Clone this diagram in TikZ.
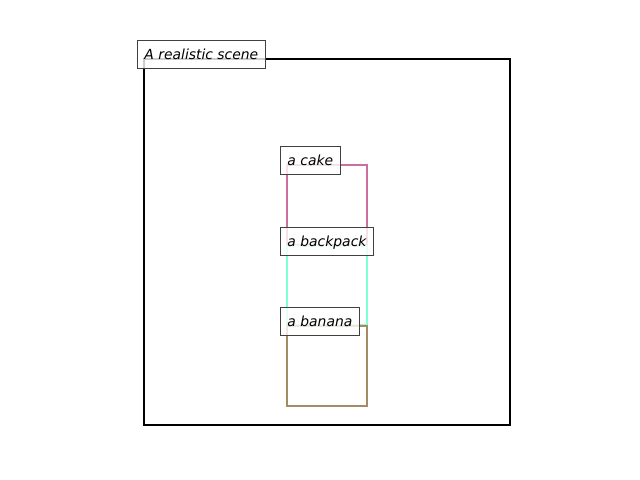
\documentclass[tikz,border=0pt]{standalone}
\usepackage{fontspec}
\newfontfamily\tagfont{DejaVu Sans}
\usetikzlibrary{positioning}
\definecolor{cakepink}{RGB}{204,110,158}
\definecolor{packcyan}{RGB}{127,255,212}
\definecolor{bananabrown}{RGB}{166,138,100}

\begin{document}
\begin{tikzpicture}[
    x=0.72pt, y=-0.72pt,
    frame/.style ={draw=black, line width=1.5pt},
    objbox/.style={line width=2pt},
    tag/.style   ={draw=black!75, line width=0.7pt, fill=white, fill opacity=0.8,
                   text opacity=1, anchor=base west, xshift=-5pt,
                   inner xsep=5pt, inner ysep=0pt, text height=13.3pt, text depth=6.9pt,
                   font=\tagfont\itshape\fontsize{10}{12}\selectfont},
]
\useasboundingbox (0,0) rectangle (640,480);
% corners of the boxes
\coordinate (scene)  at (144,59);  \coordinate (scene-se)  at (510,425);
\coordinate (cake)   at (287,165); \coordinate (cake-se)   at (367,245);
\coordinate (pack)   at (287,246); \coordinate (pack-se)   at (367,325);
\coordinate (banana) at (287,326); \coordinate (banana-se) at (367,406);
\draw[frame] (scene) rectangle (scene-se);
\draw[objbox, cakepink]    (cake) rectangle (cake-se);
\draw[objbox, packcyan]    (pack) rectangle (pack-se);
\draw[objbox, bananabrown] (banana) rectangle (banana-se);
% labels
\node[tag] (scene-tag)  at (scene)  {A realistic scene};
\node[tag] (cake-tag)   at (cake)   {a cake};
\node[tag] (pack-tag)   at (pack)   {a backpack};
\node[tag] (banana-tag) at (banana) {a banana};
\end{tikzpicture}
\end{document}
